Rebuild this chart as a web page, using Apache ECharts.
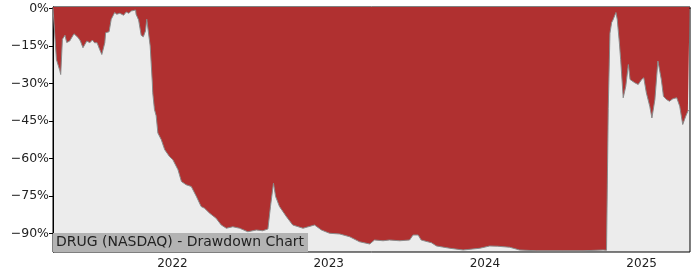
<!DOCTYPE html>
<html>
<head>
<meta charset="utf-8">
<script src="https://cdn.jsdelivr.net/npm/echarts@6/dist/echarts.min.js"></script>
<style>
html,body{margin:0;padding:0;background:#fff;}
#chart{width:700px;height:280px;}
</style>
</head>
<body>
<div id="chart"></div>
<script>
const dates = [
'2021-03-28','2021-03-31','2021-04-05','2021-04-13','2021-04-15','2021-04-19','2021-04-25','2021-04-29',
'2021-05-06','2021-05-10','2021-05-16','2021-05-26','2021-05-31','2021-06-06','2021-06-10','2021-06-15',
'2021-06-22','2021-06-28','2021-07-03','2021-07-09','2021-07-15','2021-07-20','2021-07-27','2021-07-29',
'2021-08-06','2021-08-11','2021-08-19','2021-08-24','2021-08-31','2021-09-09','2021-09-15','2021-09-21',
'2021-09-27','2021-10-07','2021-10-08','2021-10-14','2021-10-20','2021-10-25','2021-10-30','2021-11-02',
'2021-11-06','2021-11-10','2021-11-15','2021-11-16','2021-11-20','2021-11-24','2021-11-28','2021-12-06',
'2021-12-14','2021-12-25','2022-01-02','2022-01-14','2022-01-22','2022-02-02','2022-02-14','2022-02-26',
'2022-03-09','2022-03-17','2022-03-29','2022-04-13','2022-04-25','2022-05-07','2022-05-22','2022-06-07',
'2022-06-26','2022-06-30','2022-07-16','2022-07-31','2022-08-12','2022-08-18','2022-08-25','2022-08-30',
'2022-09-08','2022-09-24','2022-10-09','2022-11-02','2022-11-29','2022-12-15','2023-01-03','2023-01-27',
'2023-02-19','2023-03-14','2023-04-07','2023-04-18','2023-05-08','2023-05-23','2023-06-16','2023-07-09',
'2023-07-17','2023-07-29','2023-08-05','2023-08-29','2023-09-10','2023-10-11','2023-11-11','2023-12-20',
'2024-01-12','2024-01-31','2024-02-28','2024-03-22','2024-04-30','2024-07-01','2024-08-17','2024-10-03',
'2024-10-11','2024-10-15','2024-10-19','2024-10-23','2024-10-26','2024-11-02','2024-11-05','2024-11-10',
'2024-11-13','2024-11-19','2024-11-25','2024-12-01','2024-12-05','2024-12-09','2024-12-16','2024-12-24',
'2025-01-01','2025-01-06','2025-01-12','2025-01-20','2025-01-25','2025-02-01','2025-02-08','2025-02-12',
'2025-02-16','2025-02-21','2025-02-28','2025-03-07','2025-03-15','2025-03-24','2025-03-31','2025-04-07',
'2025-04-14','2025-04-19','2025-04-23'
];
const drawdown = [
0,-0.4,-20.5,-25,-26.5,-12.4,-10.8,-13.7,
-13.1,-13.5,-10.2,-11.8,-13.1,-15.8,-16.2,-13.1,
-13.8,-12.7,-13.8,-13.8,-16.5,-18.5,-13.8,-9.8,
-9.4,-4.4,-1.7,-2.4,-2,-2.8,-1.5,-2,
-1.1,-0.7,-2.4,-4.7,-10.8,-11.4,-9.1,-4.4,
-3.7,-15.1,-29.8,-33.8,-40.5,-43,-49.9,-52.6,
-56.6,-59.3,-60.6,-64.6,-69.3,-70.6,-71.3,-75.3,
-79.3,-80,-82,-84,-86.7,-88,-87.4,-88,
-89.4,-89.8,-88.7,-89,-88.3,-79.3,-70,-75.3,
-79.3,-83.3,-86.7,-88,-86.7,-88.7,-90,-90.3,
-91.4,-93.4,-94.3,-92.7,-93,-92.7,-93,-92.7,
-90.7,-90.7,-92.7,-93.8,-95.1,-96,-96.7,-96,
-95.1,-95.2,-95.6,-96.7,-97,-97,-97,-96.7,
-96.8,-40,-10,-5.7,-4.7,-1.7,-4.4,-13.8,
-20.5,-35.8,-31.2,-22.5,-28.5,-29.2,-29.8,-30.5,
-28.5,-27.8,-33.8,-39.2,-43.9,-36.5,-21.1,-20.5,
-28.5,-35.2,-36.5,-37.2,-36.2,-35.8,-39.2,-46.5,
-43.2,-41.2,-40.5
];
const yTicks = [0, -15, -30, -45, -60, -75, -90];
const xTicks = ['2022-01-01', '2023-01-01', '2024-01-01', '2025-01-01'];
const titleText = 'DRUG (NASDAQ) - Drawdown Chart';

const ts = d => Date.UTC(+d.slice(0, 4), +d.slice(5, 7) - 1, +d.slice(8, 10));
const chart = echarts.init(document.getElementById('chart'), null, {renderer: 'canvas'});
const font = 'DejaVu Sans';
const xTickVals = xTicks.map(ts);
chart.setOption({
  animation: false,
  backgroundColor: '#ffffff',
  title: {
    text: titleText,
    left: 53, top: 233,
    padding: [2, 4, 2, 3],
    backgroundColor: '#b3b3b3',
    textStyle: {fontFamily: font, fontSize: 14, fontWeight: 'normal', color: '#222', lineHeight: 15}
  },
  grid: {
    left: 53, right: 10, top: 7, bottom: 28,
    show: true, backgroundColor: '#ececec', borderColor: '#000', borderWidth: 1
  },
  xAxis: {
    type: 'value',
    min: ts('2021-03-28'),
    max: ts('2025-04-24'),
    axisLine: {show: true, lineStyle: {color: '#000', width: 1}},
    axisTick: {show: true, length: 4, lineStyle: {color: '#000'}, customValues: xTickVals},
    axisLabel: {
      customValues: xTickVals,
      fontFamily: font, fontSize: 12, color: '#222', margin: 6,
      formatter: v => String(new Date(v).getUTCFullYear())
    },
    splitLine: {show: false}
  },
  yAxis: {
    type: 'value',
    min: -97.5, max: 0.5,
    axisLine: {show: true, lineStyle: {color: '#000', width: 1}},
    axisTick: {show: true, length: 4, lineStyle: {color: '#000'}, customValues: yTicks},
    axisLabel: {
      customValues: yTicks,
      fontFamily: font, fontSize: 12.5, color: '#222', margin: 4,
      formatter: v => (v < 0 ? '\u2212' : '') + Math.abs(Math.round(v)) + '%'
    },
    splitLine: {show: false}
  },
  series: [{
    type: 'line',
    data: dates.map((d, i) => [ts(d), drawdown[i]]),
    symbol: 'none',
    lineStyle: {color: '#8a8a8a', width: 1},
    areaStyle: {color: '#b03030', opacity: 1, origin: 'end'},
    z: 2
  }]
});
</script>
</body>
</html>
